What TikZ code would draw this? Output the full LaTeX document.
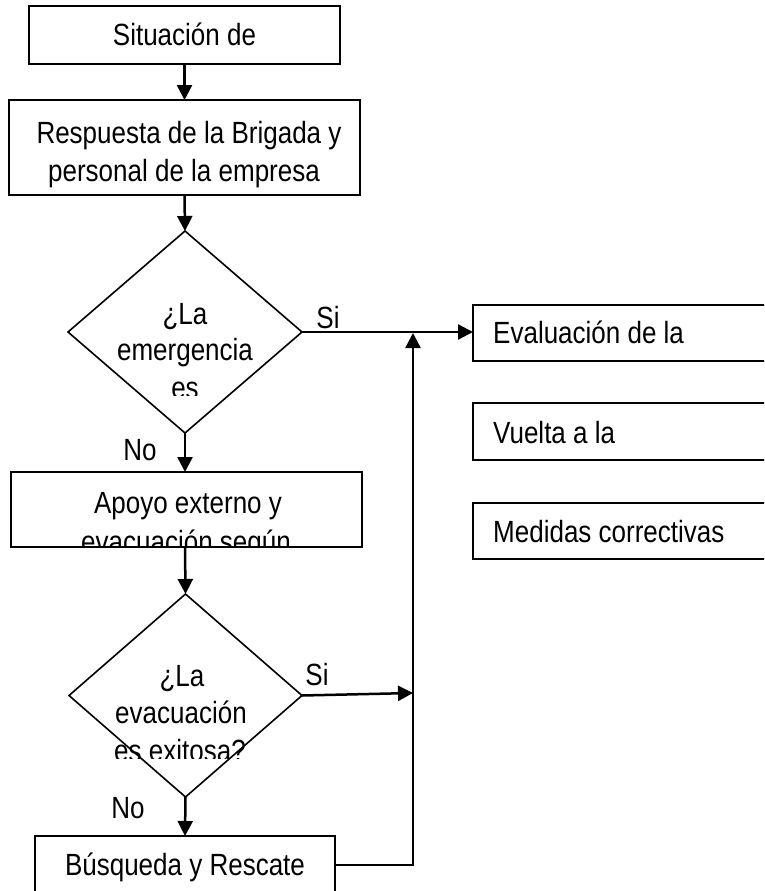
\documentclass[tikz,border=0pt]{standalone}
\usepackage{fontspec}
\usepackage{graphicx}
\setmainfont{Liberation Sans}
\usetikzlibrary{shapes.geometric,arrows.meta}
\newcommand{\stt}[1]{\scalebox{1}[1.18]{#1}}
\begin{document}
\begin{tikzpicture}[x=1pt,y=-1pt,
  box/.style={draw=black,line width=2pt,inner sep=0pt,outer sep=0pt},
  dia/.style={draw=black,diamond,line width=1.6pt,inner sep=0pt,outer sep=0pt},
  txt/.style={anchor=base,inner sep=0pt,font=\fontsize{26}{37}\selectfont},
  ltxt/.style={anchor=base west,inner sep=0pt,font=\fontsize{26}{37}\selectfont},
  arr/.style={line width=2.5pt,-{Triangle[length=15pt,width=15pt]}},
  con/.style={line width=2.5pt}]
\useasboundingbox (0,0) rectangle (764,891);
\clip (0,0) rectangle (764,891);
\fill[white] (0,0) rectangle (764,891);

% main column
\node[box,minimum width=311pt,minimum height=58pt] (b1) at (184.5,35) {};
\node[txt] (t1) at (184.5,46) {\stt{Situación de}};

\node[box,minimum width=351pt,minimum height=95pt] (b2) at (184.5,147.5) {};
\node[txt] (t2a) at (189,143) {\stt{Respuesta de la Brigada y}};
\node[txt] (t2b) at (184,181) {\stt{personal de la empresa}};

\node[dia,minimum width=234pt,minimum height=202pt] (d1) at (185,332) {};
\begin{scope}
\clip (60,230) rectangle (310,395);
\node[txt] (t3a) at (185,324) {\stt{¿La}};
\node[txt] (t3b) at (185,360) {\stt{emergencia}};
\node[txt] (t3c) at (185,398) {\stt{es}};
\end{scope}

\node[box,minimum width=351pt,minimum height=75pt] (b3) at (186.5,509.5) {};
\begin{scope}
\clip (11,472) rectangle (362,547);
\node[txt] (t4a) at (188,513) {\stt{Apoyo externo y}};
\node[txt] (t4b) at (186,552) {\stt{evacuación según}};
\end{scope}

\node[dia,minimum width=233pt,minimum height=203pt] (d2) at (185.5,695.5) {};
\begin{scope}
\clip (60,590) rectangle (310,758);
\node[txt] (t5a) at (182,686) {\stt{¿La}};
\node[txt] (t5b) at (181,723) {\stt{evacuación}};
\node[txt] (t5c) at (180,761) {\stt{es exitosa?}};
\end{scope}

\node[box,minimum width=300pt,minimum height=58pt] (b5) at (185,865) {};
\node[txt] (t6) at (185,875) {\stt{Búsqueda y Rescate}};

% right boxes
\node[box,anchor=west,minimum width=340pt,minimum height=56pt] (ev) at (473,333) {};
\node[ltxt] (tev) at (493,343) {\stt{Evaluación de la}};
\node[box,anchor=west,minimum width=340pt,minimum height=57pt] (vu) at (473,431.5) {};
\node[ltxt] (tvu) at (493,443) {\stt{Vuelta a la}};
\node[box,anchor=west,minimum width=340pt,minimum height=56pt] (me) at (473,531) {};
\node[ltxt] (tme) at (493,542) {\stt{Medidas correctivas}};

% labels
\node[txt] (si1) at (328,328) {\stt{Si}};
\node[txt] (no1) at (140,460) {\stt{No}};
\node[txt] (si2) at (317,685) {\stt{Si}};
\node[txt] (no2) at (128,818) {\stt{No}};

% junction coordinates
\coordinate (j) at (413,333);
\coordinate (k) at (413,693);

% connectors
\draw[arr] (b1.south) -- (b2.north);
\draw[arr] (b2.south) -- (d1.north);
\draw[arr] (d1.south) -- (d1.south |- b3.north);
\draw[arr] (d1.south |- b3.south) -- (d2.north);
\draw[arr] (d2.south) -- (b5.north);
\draw[arr] (d1.east) -- (d1.east -| ev.west);
\draw[arr] (d2.east) -- (k);
\draw[arr] (b5.east) -| (j);
\end{tikzpicture}
\end{document}
